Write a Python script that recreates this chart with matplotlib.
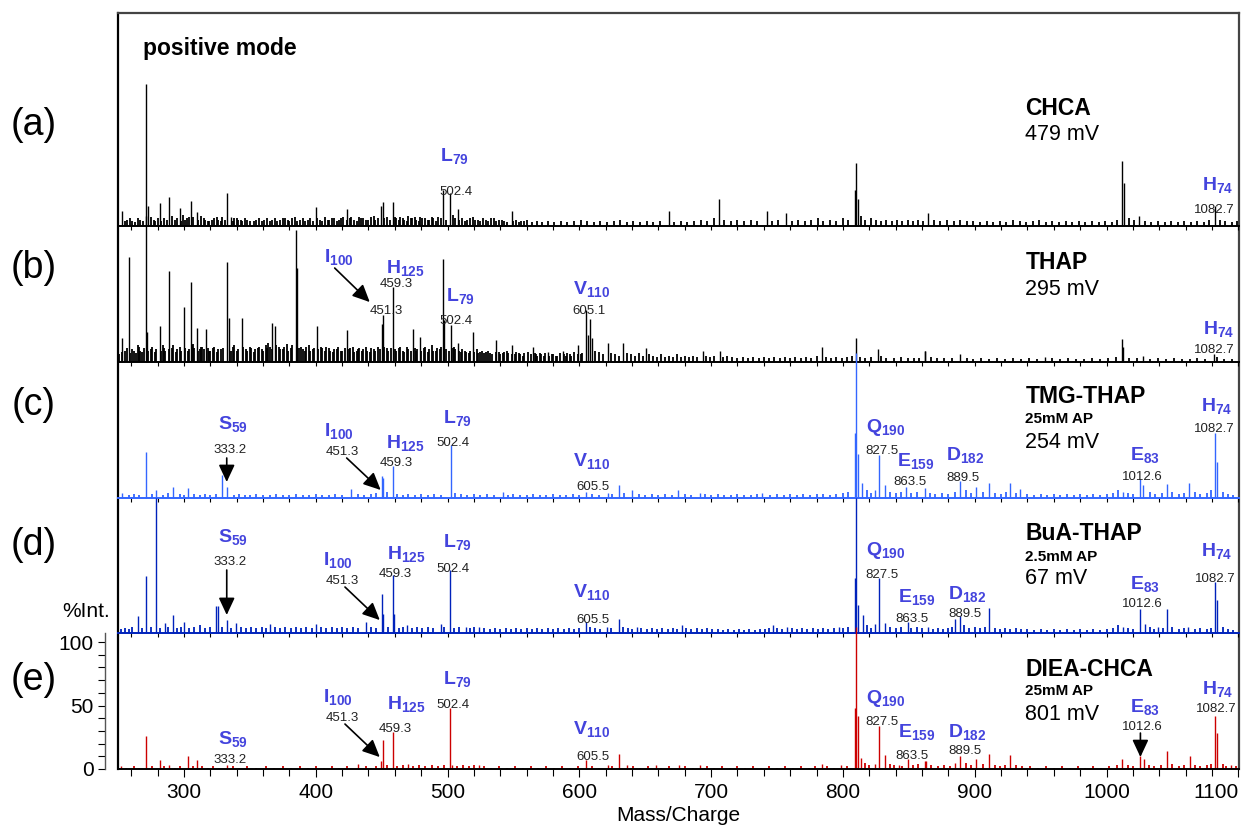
import matplotlib
matplotlib.use('Agg')
import matplotlib.pyplot as plt
from matplotlib.ticker import MultipleLocator

plt.rcParams['font.family'] = ['Liberation Sans', 'DejaVu Sans']
plt.rcParams['mathtext.fontset'] = 'custom'
plt.rcParams['mathtext.rm'] = 'Liberation Sans'
plt.rcParams['mathtext.bf'] = 'Liberation Sans:bold'

# ---- spectra, (m/z, intensity) ----
chca_peaks = [(252.9, 12), (271.1, 112), (272.4, 16), (281.7, 18), (288.5, 23), (296.9, 14),
              (305.3, 20), (309.8, 11), (332.5, 26), (335.6, 7), (400, 15), (423.5, 13),
              (449.8, 16), (450.8, 19), (458.4, 19), (496.3, 28), (501.7, 26), (507.7, 13),
              (548.6, 12), (667.8, 12), (705.7, 21), (742.1, 12), (756.5, 10), (808.8, 28),
              (809.6, 50), (811.1, 21), (864.9, 10), (1012, 51), (1013.5, 34), (1024.9, 8),
              (1082.6, 16)]
chca_noise = [(255, 4), (259, 6), (263, 3), (267, 5), (275, 7), (278, 4), (285, 6), (291, 8), (293, 5),
              (299, 9), (302, 6), (307, 7), (313, 8), (316, 5), (319, 4), (323, 6), (326, 5), (329, 7),
              (338, 6), (341, 5), (344, 4), (348, 5), (353, 4), (357, 6), (361, 5), (365, 4), (369, 6),
              (373, 5), (377, 6), (380, 4), (384, 7), (388, 5), (392, 4), (396, 6), (403, 5), (407, 7),
              (410, 5), (414, 6), (418, 5), (421, 7), (426, 6), (429, 5), (433, 7), (436, 6), (440, 5),
              (444, 8), (447, 6), (454, 7), (461, 6), (464, 7), (467, 5), (470, 8), (473, 6), (476, 5),
              (479, 7), (483, 6), (486, 5), (489, 6), (493, 7), (504, 9), (511, 6), (515, 5), (519, 7),
              (523, 5), (527, 6), (531, 4), (535, 6), (539, 5), (543, 4), (552, 5), (556, 4), (560, 5),
              (564, 3), (568, 4), (572, 3), (576, 4), (581, 3), (586, 4), (591, 3), (596, 4), (601, 5),
              (606, 4), (611, 3), (616, 4), (621, 3), (626, 4), (631, 5), (636, 3), (641, 4), (646, 3),
              (651, 4), (656, 3), (661, 4), (672, 3), (677, 4), (682, 3), (687, 4), (692, 5), (697, 4),
              (702, 6), (710, 5), (715, 4), (720, 5), (725, 4), (730, 5), (735, 4), (746, 4), (751, 5),
              (761, 4), (766, 5), (771, 4), (776, 5), (781, 6), (785, 4), (790, 5), (795, 4), (800, 6),
              (804, 5), (814, 8), (817, 5), (821, 6), (825, 5), (829, 4), (833, 5), (837, 4), (841, 5),
              (845, 4), (849, 5), (853, 4), (857, 5), (861, 4), (869, 5), (874, 4), (879, 5), (884, 4),
              (889, 5), (894, 4), (899, 4), (904, 3), (909, 4), (914, 3), (919, 4), (924, 3), (929, 5),
              (934, 4), (939, 3), (944, 4), (949, 5), (954, 3), (959, 4), (964, 3), (969, 4), (974, 3),
              (979, 4), (984, 3), (989, 4), (994, 3), (999, 4), (1004, 3), (1008, 5), (1017, 6),
              (1021, 5), (1029, 4), (1034, 3), (1039, 4), (1044, 3), (1049, 4), (1054, 3), (1059, 4),
              (1064, 3), (1069, 4), (1074, 3), (1078, 5), (1086, 5), (1090, 4), (1095, 3), (1099, 4),
              (257, 5), (261, 4), (265, 6), (269, 4), (277, 5), (280, 6), (283, 4), (287, 5), (295, 6),
              (298, 4), (301, 5), (304, 7), (311, 5), (315, 6), (318, 4), (321, 5), (325, 7), (328, 4),
              (331, 5), (337, 4), (340, 6), (343, 5), (346, 6), (350, 4), (355, 5), (359, 4), (363, 6),
              (367, 5), (371, 4), (375, 6), (379, 5), (382, 6), (386, 4), (390, 6), (394, 5), (398, 4),
              (401, 6), (405, 4), (409, 5), (412, 6), (416, 4), (419, 6), (424, 5), (427, 7), (431, 4),
              (434, 6), (438, 5), (442, 7), (445, 5), (452, 6), (456, 5), (460, 7), (463, 5), (466, 6),
              (469, 4), (472, 6), (475, 7), (478, 4), (481, 6), (485, 5), (488, 7), (491, 4), (495, 6),
              (499, 5), (506, 6), (509, 5), (513, 4), (517, 6), (521, 5), (525, 4), (529, 5), (533, 6),
              (537, 4), (541, 5), (545, 3), (550, 4), (554, 3), (558, 4)]

thap_peaks = [(252.9, 19), (258.2, 83), (271.1, 115), (271.8, 24), (281.7, 28), (288.5, 72),
              (300, 43), (305.3, 63), (309.8, 27), (316.6, 26), (332.5, 79), (334, 35), (343.9, 35),
              (366.7, 31), (368.9, 28), (384.9, 104), (385.6, 74), (400.8, 28), (423.5, 25),
              (450.1, 30), (450.8, 37), (458.4, 59), (473.6, 26), (478.9, 20), (496.3, 81),
              (497.1, 33), (502.4, 29), (507.7, 15), (519.1, 24), (536.5, 17), (548.6, 13),
              (564.6, 12), (576, 8), (587.4, 9), (598.7, 13), (604.8, 41), (606.3, 21), (607.8, 34),
              (609.4, 19), (621.5, 15), (632.9, 15), (650.3, 11), (693.5, 9), (706.4, 9),
              (783.8, 12), (809.6, 19), (826.3, 10), (861.9, 9), (862.6, 9), (889.2, 6), (953.6, 4),
              (1012, 18), (1012.8, 12), (1028, 5), (1081.8, 6)]
thap_noise = [(251, 6), (255, 9), (261, 10), (264, 7), (266, 12), (268, 8), (275, 10), (278, 8),
              (284, 13), (286, 9), (291, 11), (294, 8), (297, 12), (303, 9), (307, 14), (312, 10),
              (314, 12), (319, 9), (322, 11), (325, 8), (328, 10), (337, 12), (340, 9), (347, 10),
              (350, 12), (353, 8), (356, 11), (359, 10), (362, 13), (364, 15), (372, 12), (375, 10),
              (378, 14), (381, 11), (389, 12), (392, 9), (395, 13), (398, 10), (404, 12), (407, 9),
              (410, 11), (413, 8), (416, 10), (419, 9), (426, 11), (429, 8), (432, 10), (435, 9),
              (438, 12), (441, 8), (444, 10), (447, 12), (454, 11), (461, 9), (464, 12), (467, 8),
              (470, 10), (476, 9), (482, 11), (485, 8), (488, 13), (491, 9), (494, 10), (505, 12),
              (510, 8), (513, 9), (516, 7), (522, 10), (525, 8), (528, 7), (531, 9), (534, 6),
              (539, 8), (542, 7), (545, 9), (551, 6), (554, 7), (557, 5), (561, 8), (567, 6),
              (570, 7), (573, 5), (579, 6), (582, 5), (585, 7), (590, 5), (593, 6), (596, 8),
              (601, 6), (612, 9), (615, 8), (618, 6), (624, 7), (627, 6), (630, 5), (636, 7),
              (639, 6), (642, 5), (645, 7), (648, 5), (653, 6), (656, 5), (659, 4), (662, 6),
              (665, 4), (668, 5), (671, 4), (674, 6), (677, 4), (680, 5), (683, 4), (686, 5),
              (689, 4), (696, 5), (699, 4), (702, 5), (709, 4), (712, 5), (716, 4), (720, 3),
              (724, 4), (728, 3), (732, 4), (736, 3), (740, 4), (744, 3), (748, 4), (752, 3),
              (756, 4), (760, 3), (764, 4), (768, 3), (772, 4), (776, 3), (780, 5), (787, 4),
              (791, 3), (795, 4), (799, 3), (803, 4), (807, 5), (813, 4), (817, 3), (821, 4),
              (829, 5), (833, 3), (839, 3), (844, 4), (849, 3), (854, 3), (858, 3), (867, 4),
              (871, 3), (877, 3), (883, 3), (894, 3), (899, 2), (905, 3), (911, 2), (917, 3),
              (923, 2), (929, 3), (935, 2), (941, 3), (947, 2), (959, 3), (965, 2), (971, 3),
              (977, 2), (983, 2), (989, 3), (995, 2), (1001, 3), (1007, 4), (1017, 3), (1023, 3),
              (1033, 2), (1039, 3), (1045, 2), (1051, 3), (1057, 2), (1063, 2), (1069, 3),
              (1075, 2), (1084, 4), (1089, 2), (1095, 2),
              (253, 8), (257, 11), (259, 7), (262, 9), (265, 13), (267, 9), (270, 11), (273, 9),
              (276, 12), (279, 10), (283, 9), (285, 11), (289, 10), (292, 13), (295, 10), (298, 9),
              (301, 11), (304, 10), (306, 13), (308, 11), (311, 9), (313, 12), (315, 10), (318, 11),
              (320, 9), (323, 12), (326, 10), (330, 11), (336, 9), (338, 13), (341, 10), (345, 12),
              (348, 9), (351, 11), (354, 10), (357, 12), (360, 9), (363, 11), (365, 12), (367, 10),
              (370, 13), (373, 10), (376, 12), (379, 9), (382, 13), (387, 11), (390, 10), (393, 12),
              (396, 9), (399, 11), (402, 10), (405, 11), (408, 12), (411, 9), (414, 10), (417, 12),
              (420, 9), (422, 11), (425, 10), (428, 12), (431, 9), (433, 11), (436, 10), (439, 9),
              (442, 11), (445, 9), (449, 10), (452, 12), (455, 9), (457, 11), (460, 10), (463, 11),
              (466, 9), (469, 12), (472, 9), (475, 11), (477, 10), (480, 9), (483, 12), (486, 10),
              (489, 9), (492, 11), (495, 12), (499, 10), (501, 9), (504, 11), (506, 10), (509, 9),
              (511, 10), (514, 8), (517, 9), (520, 8), (523, 7), (526, 9), (529, 8), (532, 7),
              (537, 8), (540, 6), (543, 8), (546, 7), (549, 6), (552, 8), (555, 6), (558, 7),
              (563, 6), (566, 7), (568, 5), (571, 6), (574, 7), (577, 5), (580, 6), (583, 5),
              (588, 6), (591, 7), (594, 5), (599, 6), (602, 7)]

tmg_peaks = [(252.9, 4), (271.1, 36), (278.6, 6), (291.6, 9), (303, 8), (328.7, 18), (332.5, 9),
             (426.6, 7), (450.1, 17), (450.8, 16), (458.4, 25), (502.4, 42), (541.8, 5), (604.8, 5),
             (621.5, 4), (629.8, 10), (639.7, 6), (674.6, 6), (691.2, 4), (738.3, 4), (808.8, 51),
             (809.6, 114), (811.1, 35), (814.1, 12), (824.7, 6), (827, 34), (831.6, 10), (848.2, 9),
             (862.6, 8), (889.2, 13), (901.3, 9), (911.2, 12), (927.1, 12), (934, 7), (1012.8, 5),
             (1025.7, 15), (1028, 10), (1046.2, 11), (1062.8, 12), (1082.6, 51), (1084.1, 28)]
tmg_noise = [(258, 2), (262, 3), (266, 2), (276, 3), (284, 2), (288, 4), (297, 3), (300, 2),
             (308, 3), (312, 2), (316, 3), (320, 2), (324, 3), (338, 2), (342, 3), (346, 2),
             (350, 2), (355, 3), (360, 2), (365, 2), (370, 3), (375, 2), (380, 2), (385, 3),
             (390, 2), (395, 2), (400, 3), (405, 2), (410, 2), (415, 3), (420, 2), (432, 3),
             (437, 2), (442, 3), (446, 4), (454, 5), (462, 3), (466, 2), (470, 3), (475, 2),
             (480, 3), (485, 2), (490, 3), (495, 2), (506, 4), (510, 3), (515, 2), (520, 3),
             (525, 2), (530, 3), (535, 2), (546, 2), (550, 3), (555, 2), (560, 2), (565, 3),
             (570, 2), (575, 2), (580, 3), (585, 2), (590, 2), (595, 3), (600, 2), (610, 3),
             (615, 2), (625, 3), (634, 4), (645, 3), (650, 2), (655, 3), (660, 2), (665, 3),
             (670, 2), (680, 3), (685, 2), (695, 3), (700, 2), (705, 3), (710, 2), (715, 2),
             (720, 3), (725, 2), (730, 2), (735, 3), (745, 2), (750, 3), (755, 2), (760, 3),
             (765, 2), (770, 3), (775, 2), (780, 3), (785, 3), (790, 2), (795, 3), (800, 4),
             (804, 5), (818, 6), (821, 4), (836, 5), (840, 4), (844, 5), (852, 4), (856, 5),
             (866, 4), (870, 3), (875, 4), (880, 3), (885, 5), (893, 6), (897, 4), (906, 5),
             (915, 4), (920, 3), (924, 5), (931, 4), (940, 3), (945, 2), (950, 3), (955, 2),
             (960, 3), (965, 2), (970, 3), (975, 2), (980, 3), (985, 2), (990, 3), (995, 2),
             (1000, 3), (1005, 4), (1009, 6), (1016, 4), (1020, 3), (1033, 5), (1037, 3),
             (1042, 4), (1050, 5), (1055, 3), (1059, 4), (1067, 5), (1071, 3), (1076, 4),
             (1079, 6), (1088, 5), (1092, 3), (1096, 2)]

bua_peaks = [(265.4, 13), (271, 45), (278.8, 106), (285.4, 8), (291.6, 14), (300, 9), (324.4, 21),
             (325.6, 21), (332.5, 10), (339.7, 8), (365.4, 7), (400, 7), (438.4, 9), (450, 31),
             (451.2, 15), (458.9, 46), (459.5, 15), (469.1, 6), (494.7, 7), (501.9, 50), (513.9, 5),
             (524.2, 5), (604.8, 9), (620.7, 5), (629.8, 11), (643.5, 5), (677.6, 6), (746.6, 6),
             (757.2, 5), (796.7, 5), (808.8, 43), (809.6, 106), (811.1, 22), (814.9, 14), (824, 7),
             (827, 43), (832.3, 8), (849, 9), (864.2, 5), (885.4, 11), (889.2, 13), (911.2, 20),
             (1012.8, 5), (1025.7, 19), (1029.5, 7), (1039.3, 5), (1046.2, 19), (1062.1, 5),
             (1082.6, 40), (1084.1, 26)]
bua_noise = [(252, 3), (255, 4), (258, 3), (261, 5), (268, 4), (275, 5), (282, 4), (288, 5),
             (295, 4), (298, 5), (304, 4), (308, 5), (312, 6), (316, 4), (320, 5), (329, 5),
             (336, 4), (343, 5), (347, 4), (351, 5), (355, 4), (359, 5), (362, 4), (369, 5),
             (373, 4), (377, 5), (381, 4), (385, 5), (389, 4), (393, 5), (397, 4), (404, 5),
             (408, 4), (412, 5), (416, 4), (420, 5), (424, 4), (428, 5), (432, 4), (442, 5),
             (446, 4), (455, 5), (463, 4), (466, 5), (473, 4), (477, 5), (481, 4), (485, 5),
             (489, 4), (497, 5), (505, 4), (509, 5), (517, 4), (520, 5), (528, 4), (532, 3),
             (536, 4), (540, 3), (544, 4), (548, 3), (552, 4), (556, 3), (560, 4), (564, 3),
             (568, 4), (572, 3), (576, 4), (580, 3), (584, 4), (588, 3), (592, 4), (596, 3),
             (600, 4), (608, 5), (612, 4), (616, 3), (624, 4), (633, 5), (637, 4), (640, 3),
             (647, 4), (651, 3), (655, 4), (659, 3), (663, 4), (667, 3), (671, 4), (674, 3),
             (681, 4), (685, 3), (689, 4), (693, 3), (697, 4), (701, 3), (705, 3), (709, 2),
             (713, 3), (717, 2), (721, 3), (725, 2), (729, 3), (733, 2), (737, 3), (741, 3),
             (744, 4), (750, 4), (754, 3), (761, 4), (765, 3), (769, 4), (773, 3), (777, 4),
             (781, 3), (785, 4), (789, 3), (793, 4), (800, 4), (804, 5), (818, 6), (821, 4),
             (836, 5), (840, 4), (844, 5), (852, 4), (856, 5), (860, 4), (868, 3), (872, 4),
             (876, 3), (880, 4), (883, 5), (892, 6), (896, 4), (900, 5), (904, 4), (908, 5),
             (915, 4), (919, 3), (923, 4), (927, 3), (931, 4), (935, 3), (940, 3), (945, 2),
             (950, 3), (955, 2), (960, 3), (965, 2), (970, 3), (975, 2), (980, 3), (985, 2),
             (990, 3), (995, 2), (1000, 3), (1005, 4), (1009, 6), (1016, 4), (1020, 3),
             (1033, 5), (1036, 3), (1043, 4), (1050, 5), (1055, 3), (1059, 4), (1067, 3),
             (1071, 4), (1076, 3), (1079, 4), (1088, 5), (1092, 3), (1096, 2)]

diea_peaks = [(252.6, 2), (271, 26), (281.8, 7), (288.5, 3), (303.1, 10), (310.2, 7), (332.5, 3),
              (432, 4), (449.4, 6), (450.7, 23), (458.4, 29), (470.4, 4), (501.9, 48), (503.2, 3),
              (524.2, 3), (604.8, 7), (621.5, 3), (629.8, 12), (635.9, 3), (657.9, 3), (675.3, 3),
              (691.2, 3), (783.8, 4), (798.9, 3), (808.8, 48), (809.6, 112), (811.1, 42),
              (813.4, 9), (824, 4), (827, 34), (831.6, 11), (842.2, 3), (849, 8), (862.6, 6),
              (863.4, 6), (885.4, 5), (889.2, 10), (901.3, 8), (911.2, 12), (927.1, 11), (1012, 8),
              (1025.7, 10), (1028.7, 8), (1046.2, 14), (1063.6, 10), (1082.6, 42), (1084.1, 28),
              (1094.7, 3)]
diea_noise = [(256, 1), (262, 2), (266, 1), (276, 2), (285, 2), (293, 1), (297, 2), (307, 2),
              (314, 2), (318, 1), (322, 2), (327, 1), (337, 2), (342, 1), (348, 2), (355, 1),
              (362, 2), (368, 1), (375, 2), (381, 1), (388, 2), (394, 1), (400, 2), (406, 1),
              (412, 2), (418, 1), (424, 2), (438, 2), (442, 1), (446, 2), (454, 3), (462, 2),
              (466, 3), (474, 2), (478, 3), (483, 2), (488, 3), (493, 2), (497, 3), (507, 2),
              (512, 3), (516, 2), (520, 3), (528, 2), (533, 1), (539, 2), (545, 1), (551, 2),
              (557, 1), (563, 2), (569, 1), (575, 2), (581, 1), (587, 2), (593, 1), (599, 2),
              (610, 2), (615, 1), (625, 2), (641, 2), (646, 1), (652, 2), (662, 1), (668, 2),
              (680, 2), (686, 1), (697, 2), (702, 1), (708, 2), (714, 1), (720, 2), (726, 1),
              (732, 2), (738, 1), (744, 2), (750, 1), (756, 2), (762, 1), (768, 2), (774, 1),
              (779, 2), (788, 2), (793, 1), (803, 2), (817, 5), (820, 3), (836, 4), (839, 3),
              (845, 2), (853, 3), (857, 4), (867, 3), (872, 2), (877, 3), (881, 2), (893, 5),
              (897, 3), (906, 4), (915, 3), (919, 2), (923, 3), (931, 3), (936, 2), (942, 2),
              (948, 1), (954, 2), (960, 1), (966, 2), (972, 1), (978, 2), (984, 1), (990, 2),
              (996, 1), (1002, 2), (1008, 3), (1016, 3), (1020, 2), (1032, 3), (1036, 2),
              (1041, 3), (1050, 4), (1055, 2), (1059, 3), (1067, 3), (1071, 2), (1076, 3),
              (1079, 4), (1088, 4), (1091, 2), (1098, 2)]

peak_lists = [chca_peaks, thap_peaks, tmg_peaks, bua_peaks, diea_peaks]
noise_lists = [chca_noise, thap_noise, tmg_noise, bua_noise, diea_noise]

panel_tags = ['(a)', '(b)', '(c)', '(d)', '(e)']
sample_names = ['CHCA', 'THAP', 'TMG-THAP', 'BuA-THAP', 'DIEA-CHCA']
sample_additive = ['', '', '25mM AP', '2.5mM AP', '25mM AP']
sample_voltage = ['479 mV', '295 mV', '254 mV', '67 mV', '801 mV']

# residue labels: (letter, subscript, m/z, height) and mass labels: (text, m/z, height)
residue_tags = [
    [('L', '79', 505.4, 50.4), ('H', '74', 1084.1, 27.6)],
    [('I', '100', 417.5, 78), ('H', '125', 468.3, 69.3), ('L', '79', 509.9, 47.2),
     ('V', '110', 609.4, 52.8), ('H', '74', 1084.8, 21.3)],
    [('S', '59', 337.1, 53.5), ('I', '100', 417.5, 48), ('H', '125', 468.3, 38.6),
     ('L', '79', 507.7, 58.3), ('V', '110', 609.4, 24.4), ('Q', '190', 832.3, 52),
     ('E', '159', 855.1, 24.4), ('D', '182', 893, 29.1), ('E', '83', 1029.5, 29.1),
     ('H', '74', 1083.4, 67.7)],
    [('S', '59', 337.2, 70.9), ('I', '100', 417.1, 52.8), ('H', '125', 468.5, 57.5),
     ('L', '79', 507.6, 66.9), ('V', '110', 609.4, 27.6), ('Q', '190', 832.3, 61.4),
     ('E', '159', 855.8, 23.6), ('D', '182', 894.5, 26), ('E', '83', 1029.5, 33.9),
     ('H', '74', 1083.4, 59.8)],
    [('S', '59', 337.2, 18.9), ('I', '100', 417.1, 52), ('H', '125', 468.5, 46.5),
     ('L', '79', 507.6, 66.1), ('V', '110', 609.4, 26.8), ('Q', '190', 832.3, 52),
     ('E', '159', 855.8, 24.4), ('D', '182', 894.5, 24.4), ('E', '83', 1029.5, 44.1),
     ('H', '74', 1084.1, 58.3)],
]
mass_tags = [
    [('502.4', 506.2, 24.4), ('1082.7', 1081.8, 10.2)],
    [('451.3', 453.9, 37.8), ('459.3', 461.4, 59), ('502.4', 506.2, 29.9), ('605.1', 607.1, 37.8),
     ('1082.7', 1081.8, 7.1)],
    [('333.2', 334.8, 35.4), ('451.3', 420.5, 33.9), ('459.3', 461.4, 25.2), ('502.4', 503.9, 40.9),
     ('605.5', 610.1, 6.3), ('827.5', 829.3, 34.6), ('863.5', 850.5, 10.2), ('889.5', 891.4, 13.4),
     ('1012.6', 1027.2, 14.2), ('1082.7', 1081.8, 52)],
    [('333.2', 334.8, 53.5), ('451.3', 420.5, 38.6), ('459.3', 460.7, 44.1), ('502.4', 503.9, 48),
     ('605.5', 610.1, 7.9), ('827.5', 829.3, 43.3), ('863.5', 852, 8.7), ('889.5', 892.2, 12.6),
     ('1012.6', 1027.2, 20.5), ('1082.7', 1082.6, 40.2)],
    [('333.2', 334.8, 4.7), ('451.3', 420.5, 37.8), ('459.3', 460.7, 29.1), ('502.4', 503.9, 48),
     ('605.5', 610.1, 7.1), ('827.5', 829.3, 34.6), ('863.5', 852, 7.9), ('889.5', 892.2, 11.8),
     ('1012.6', 1027.2, 30.7), ('1082.7', 1083.4, 44.9)],
]
arrow_tags = [
    [],
    [((414.4, 74), (441, 47.2))],
    [((332.5, 31.5), (332.5, 12.6)), ((423.5, 31.5), (449.3, 6.3))],
    [((332.5, 49.6), (332.5, 14.2)), ((422.2, 36.2), (448.6, 10.2))],
    [((422.2, 35.4), (448.6, 9.4)), ((1025.7, 28.3), (1025.7, 9.4))],
]
mz_ticks = [300, 400, 500, 600, 700, 800, 900, 1000, 1100]

colors = ['black', 'black', '#3366ff', '#0022bb', '#cc0000']
tag_color = '#4444dd'

W, H = 1242, 827
left, right = 118, 1239
tops = [13, 226, 362, 498, 633]
bottoms = [226, 362, 498, 633, 769]
px_per_unit = 1.27
name_y = [87.4, 73.2, 74.8, 73.2, 73.2]
additive_y = [0, 0, 59, 56.7, 58.3]
voltage_y = [67.7, 52.8, 39.4, 38.6, 38.6]
tag_y = [125, 268, 405, 545, 680]

fig = plt.figure(figsize=(W / 100, H / 100), dpi=100)

# outer frame
frame = fig.add_axes([left / W, 1 - bottoms[-1] / H, (right - left) / W, (bottoms[-1] - tops[0]) / H])
frame.set_xticks([])
frame.set_yticks([])
frame.patch.set_alpha(0)
frame.spines['bottom'].set_visible(False)
for s in ['top', 'right']:
    frame.spines[s].set_color('#444444')
    frame.spines[s].set_linewidth(1.6)
frame.spines['left'].set_linewidth(1.6)

axes = []
for i in range(5):
    ax = fig.add_axes([left / W, 1 - bottoms[i] / H, (right - left) / W, (bottoms[i] - tops[i]) / H])
    ax.patch.set_alpha(0)
    ax.set_xlim(250, 1100.5)
    ax.set_ylim(0, (bottoms[i] - tops[i]) / px_per_unit)
    for s in ['top', 'right', 'left']:
        ax.spines[s].set_visible(False)
    ax.spines['bottom'].set_color(colors[i] if i < 4 else 'black')
    ax.spines['bottom'].set_linewidth(1.4)
    ax.set_xticks(mz_ticks)
    ax.xaxis.set_minor_locator(MultipleLocator(20))
    ax.set_yticks([])
    ax.tick_params(axis='x', which='both', direction='out', length=3, width=0.8, labelbottom=False)

    pk = peak_lists[i]
    ns = noise_lists[i]
    ax.vlines([p[0] for p in pk], 0, [p[1] for p in pk], colors=colors[i], lw=1.0,
              clip_on=False, zorder=2)
    ax.vlines([p[0] for p in ns], 0, [p[1] for p in ns], colors=colors[i], lw=1.3,
              clip_on=False, zorder=2)

    ax.text(938.5, name_y[i], sample_names[i], fontsize=16.5, fontweight='bold',
            ha='left', va='baseline')
    if sample_additive[i]:
        ax.text(938.5, additive_y[i], sample_additive[i], fontsize=11,
                fontweight='bold', ha='left', va='baseline')
    ax.text(938.5, voltage_y[i], sample_voltage[i], fontsize=15.5, ha='left', va='baseline')

    for letter, sub, x, y in residue_tags[i]:
        ax.text(x, y, r'$\mathbf{%s}_{\mathbf{%s}}$' % (letter, sub), fontsize=14,
                color=tag_color, ha='center', va='baseline', zorder=3)
    for txt, x, y in mass_tags[i]:
        ax.text(x, y, txt, fontsize=9.5, color='#222222', ha='center', va='baseline', zorder=3)
    for tail, head in arrow_tags[i]:
        ax.annotate('', xy=head, xytext=tail, annotation_clip=False,
                    arrowprops=dict(arrowstyle='-|>,head_length=0.75,head_width=0.35',
                                    mutation_scale=14, color='black', lw=1.2, shrinkA=0, shrinkB=0))

    fig.text(34 / W, 1 - tag_y[i] / H, panel_tags[i], fontsize=27, ha='center', va='center')
    axes.append(ax)

axes[0].text(268.9, 134.6, 'positive mode', fontsize=16.5, fontweight='bold', ha='left', va='baseline')

# bottom panel: intensity scale and m/z axis
ax = axes[-1]
ax.tick_params(axis='x', which='major', length=6, labelbottom=True, labelsize=15, pad=4)
ax.tick_params(axis='x', which='minor', length=5)
ax.set_xticklabels([str(t) for t in mz_ticks])
ax.get_xticklabels()[-1].set_horizontalalignment('right')
ax.set_xlabel('Mass/Charge', fontsize=15, labelpad=3)
ax.spines['left'].set_visible(True)
ax.spines['left'].set_position(('outward', 9.5))
ax.spines['left'].set_color('#555555')
ax.spines['left'].set_linewidth(1.0)
ax.set_yticks([0, 50, 100])
ax.yaxis.set_minor_locator(MultipleLocator(10))
ax.tick_params(axis='y', which='both', direction='out', length=5, width=0.8, labelsize=15, pad=3)
fig.text(86 / W, 1 - 617 / H, '%Int.', fontsize=15, ha='center', va='baseline')

fig.savefig('out.png', dpi=100)
